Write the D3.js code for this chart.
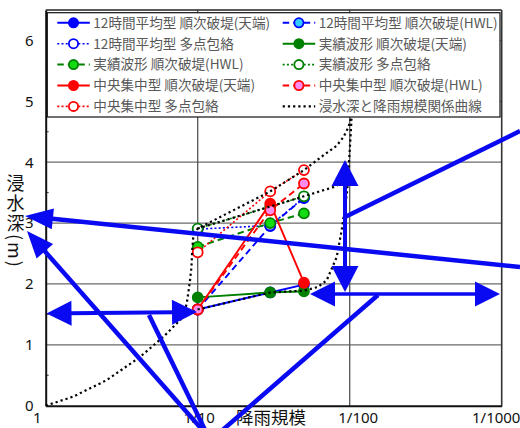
<!DOCTYPE html>
<html>
<head>
<meta charset="utf-8">
<script src="https://cdn.jsdelivr.net/npm/d3@7"></script>
<style>
  html, body { margin: 0; padding: 0; background: #fff; }
  svg { display: block; font-family: "Noto Sans CJK JP", "Noto Sans", sans-serif; }
</style>
</head>
<body>
<svg id="chart" width="520" height="428"></svg>
<script>
// Return periods (1/T) at which the breach simulations were run
const returnPeriods = [10, 30, 50];

// Inundation depth (m) for each rainfall pattern / breach condition
const avg12Crest     = [1.58, 1.86, 1.99];
const avg12Hwl       = [1.58, 2.95, 3.41];
const avg12Envelope  = [2.90, 2.96, 3.42];
const actualCrest    = [1.78, 1.86, 1.88];
const actualHwl      = [2.61, 3.00, 3.16];
const actualEnvelope = [2.91, 3.27, 3.44];
const centralCrest   = [1.58, 3.32, 2.02];
const centralHwl     = [1.58, 3.21, 3.65];
const centralEnvelope= [2.52, 3.52, 3.87];

// Depth vs. rainfall-scale relation curves: [return period, depth]
const relationLower = [[1,0],[1.52,0.15],[2.52,0.42],[4.17,0.80],[5.94,1.13],[8.04,1.46],[10,1.58],
  [30,1.86],[50,1.89],[61.8,1.95],[70.6,2.06],[82.1,2.44],[88.5,2.88],[93.1,3.26],[96.4,3.54],
  [99.4,4.08],[101.6,4.47],[102.8,4.72],[104,5.4]];
const relationUpper = [[8.04,1.46],[8.47,1.68],[8.67,1.85],[8.9,2.06],[9.1,2.28],[9.2,2.55],[9.35,2.77],
  [10,2.91],[30,3.52],[50,3.87],[67,4.11],[82,4.27],[90.8,4.41],[97.9,4.57],[102,4.72],[105,5.4]];
const relationMiddle = [[10,2.91],[50,3.44],[78,3.59],[95.5,3.70],[98.8,3.85]];

// Axis ticks
const xTickValues = [1, 10, 100, 1000];
const xTickLabels = ["1", "1/10", "1/100", "1/1000"];
const yTickValues = [0, 1, 2, 3, 4, 5, 6];
const yMinorTicks = [0.5, 1.5, 2.5, 3.5, 4.5, 5.5];

const BLUE = "#0000ff", GREEN = "#008000", RED = "#ff0000";

const series = [
  { name: "12時間平均型 順次破堤(天端)", values: avg12Crest,    stroke: BLUE,  dash: null,   fill: BLUE,      mstroke: BLUE },
  { name: "12時間平均型 順次破堤(HWL)", values: avg12Hwl,      stroke: BLUE,  dash: "6.5 4", fill: "#33ccff", mstroke: BLUE },
  { name: "12時間平均型 多点包絡",     values: avg12Envelope, stroke: BLUE,  dash: "2 2.2", fill: "#fff",    mstroke: BLUE },
  { name: "実績波形 順次破堤(天端)",   values: actualCrest,   stroke: GREEN, dash: null,   fill: GREEN,     mstroke: GREEN },
  { name: "実績波形 順次破堤(HWL)",    values: actualHwl,     stroke: GREEN, dash: "6.5 4", fill: "#12dd12", mstroke: GREEN },
  { name: "実績波形 多点包絡",         values: actualEnvelope,stroke: GREEN, dash: "2 2.2", fill: "#fff",    mstroke: GREEN },
  { name: "中央集中型 順次破堤(天端)", values: centralCrest,  stroke: RED,   dash: null,   fill: RED,       mstroke: RED },
  { name: "中央集中型 順次破堤(HWL)",  values: centralHwl,    stroke: RED,   dash: "6.5 4", fill: "#ff8cf0", mstroke: RED },
  { name: "中央集中型 多点包絡",       values: centralEnvelope,stroke: RED,  dash: "2 2.2", fill: "#fff",    mstroke: RED }
];
const relationName = "浸水深と降雨規模関係曲線";
const relationDash = "2.2 3";

const svg = d3.select("#chart");
const plot = { left: 45.7, right: 501.7, top: 10, bottom: 405.7 };

const x = d3.scaleLog().domain([1, 1000]).range([plot.left, plot.right]);
const y = d3.scaleLinear().domain([0, 6.5]).range([plot.bottom, plot.top]);

// Gridlines
const grid = svg.append("g");
grid.selectAll("line.h").data(yTickValues.filter(d => d > 0)).join("line")
  .attr("x1", plot.left).attr("x2", plot.right)
  .attr("y1", d => y(d)).attr("y2", d => y(d))
  .attr("stroke", "#6a6a6a").attr("stroke-width", 1.3);
grid.selectAll("line.v").data([10, 100]).join("line")
  .attr("x1", d => x(d)).attr("x2", d => x(d))
  .attr("y1", plot.top).attr("y2", plot.bottom)
  .attr("stroke", "#555").attr("stroke-width", 1.3);

// Plot border (top/right)
svg.append("line").attr("x1", plot.left).attr("x2", plot.right).attr("y1", y(6.5)).attr("y2", y(6.5))
  .attr("stroke", "#222").attr("stroke-width", 1.6);
svg.append("line").attr("x1", x(1000)).attr("x2", x(1000)).attr("y1", plot.top).attr("y2", plot.bottom)
  .attr("stroke", "#333").attr("stroke-width", 1.6);

// Minor ticks on the depth axis
svg.append("g").selectAll("line").data(yMinorTicks).join("line")
  .attr("x1", plot.left).attr("x2", plot.left + 3)
  .attr("y1", d => y(d)).attr("y2", d => y(d))
  .attr("stroke", "#333").attr("stroke-width", 1);

// Axes
const yAxis = svg.append("g").attr("transform", `translate(${plot.left},0)`)
  .call(d3.axisLeft(y).tickValues(yTickValues).tickSize(0).tickPadding(12).tickFormat(d3.format("d")));
yAxis.select(".domain").attr("stroke", "#111").attr("stroke-width", 2);
yAxis.selectAll("text").attr("font-size", 15).attr("fill", "#111")
  .attr("font-family", "'Noto Sans', sans-serif");

const xLabelShift = [-9, 1, 8, -6];
const xAxis = svg.append("g").attr("transform", `translate(0,${plot.bottom})`)
  .call(d3.axisBottom(x).tickValues(xTickValues).tickSize(0).tickPadding(7)
    .tickFormat((d, i) => xTickLabels[i]));
xAxis.select(".domain").attr("stroke", "#111").attr("stroke-width", 2);
xAxis.selectAll("text").attr("font-size", 15).attr("fill", "#111")
  .attr("font-family", "'Noto Sans', sans-serif")
  .attr("dx", (d, i) => xLabelShift[i]);

// Axis titles
svg.append("text").attr("x", 271).attr("y", 424).attr("text-anchor", "middle")
  .attr("font-size", 17.5).attr("fill", "#111").text("降雨規模");
svg.append("text").attr("x", 15.5).attr("y", 174)
  .attr("writing-mode", "vertical-rl").style("writing-mode", "vertical-rl")
  .attr("font-size", 18).attr("letter-spacing", 2).attr("fill", "#111").text("浸水深(m)");

// Data series
const line = d3.line().x(d => x(d[0])).y(d => y(d[1]));
const dataG = svg.append("g");
series.forEach(s => {
  const pts = returnPeriods.map((t, i) => [t, s.values[i]]);
  const g = dataG.append("g");
  g.append("path").attr("d", line(pts)).attr("fill", "none")
    .attr("stroke", s.stroke).attr("stroke-width", s.dash === "2 2.2" ? 1.6 : 1.9)
    .attr("stroke-dasharray", s.dash);
  g.selectAll("circle").data(pts).join("circle")
    .attr("cx", d => x(d[0])).attr("cy", d => y(d[1])).attr("r", 5)
    .attr("fill", s.fill).attr("stroke", s.mstroke).attr("stroke-width", 1.8);
});

// Relation curves
[relationLower, relationUpper, relationMiddle].forEach(c => {
  dataG.append("path").attr("d", line(c)).attr("fill", "none")
    .attr("stroke", "#000").attr("stroke-width", 2.2).attr("stroke-dasharray", relationDash);
});

// Legend
const legend = svg.append("g");
legend.append("rect").attr("x", 47.3).attr("y", 12.7).attr("width", 452.7).attr("height", 104.3)
  .attr("fill", "#fff").attr("stroke", "#111").attr("stroke-width", 1.2);
const legendItems = series.map(s => ({ ...s, relation: false }))
  .concat([{ name: relationName, stroke: "#000", dash: relationDash, relation: true }]);
legendItems.forEach((it, i) => {
  const col = i % 2, row = Math.floor(i / 2);
  const x0 = col === 0 ? 57.3 : 282.7;
  const cy = 22.8 + row * 20.9;
  const g = legend.append("g");
  g.append("line").attr("x1", x0).attr("x2", x0 + 32.5).attr("y1", cy).attr("y2", cy)
    .attr("stroke", it.stroke)
    .attr("stroke-width", it.relation ? 2.2 : (it.dash === "2 2.2" ? 1.6 : 2))
    .attr("stroke-dasharray", it.dash);
  if (!it.relation) {
    g.append("circle").attr("cx", x0 + 16.2).attr("cy", cy).attr("r", 4.6)
      .attr("fill", it.fill).attr("stroke", it.mstroke).attr("stroke-width", 1.8);
  }
  g.append("text").attr("x", x0 + 36).attr("y", cy).attr("dy", "0.36em")
    .attr("font-size", 13.6).attr("fill", "#595959").text(it.name);
});

// Callout arrows
const callouts = [
  { from: [520, 131], to: [345, 217], width: 4.5, heads: [] },
  { from: [345, 292], to: [345, 160], width: 4, heads: ["start", "end"], hl: 26, hw: 27 },
  { from: [310, 294], to: [500, 294], width: 3.7, heads: ["start", "end"], hl: 25, hw: 25 },
  { from: [378, 295], to: [218, 434], width: 4.5, heads: [] },
  { from: [520, 267], to: [25, 216], width: 4.5, heads: ["end"], hl: 28, hw: 21 },
  { from: [206, 434], to: [27, 231], width: 4.5, heads: ["end"], hl: 27, hw: 22 },
  { from: [46.5, 313.5], to: [197, 312], width: 4, heads: ["start", "end"], hl: 25, hw: 25 },
  { from: [149, 315], to: [207, 434], width: 4.5, heads: [] }
];
const ARROW = "#0a0af2";
const arrowG = svg.append("g");
callouts.forEach(c => {
  const [x1, y1] = c.from, [x2, y2] = c.to;
  const len = Math.hypot(x2 - x1, y2 - y1);
  const ux = (x2 - x1) / len, uy = (y2 - y1) / len;
  const nx = -uy, ny = ux;
  let sx = x1, sy = y1, ex = x2, ey = y2;
  if (c.heads.includes("start")) { sx += ux * c.hl * 0.9; sy += uy * c.hl * 0.9; }
  if (c.heads.includes("end")) { ex -= ux * c.hl * 0.9; ey -= uy * c.hl * 0.9; }
  arrowG.append("line").attr("x1", sx).attr("y1", sy).attr("x2", ex).attr("y2", ey)
    .attr("stroke", ARROW).attr("stroke-width", c.width);
  const head = (px, py, dx, dy) => {
    const bx = px - dx * c.hl, by = py - dy * c.hl;
    const pts = [[px, py], [bx + nx * c.hw / 2, by + ny * c.hw / 2], [bx - nx * c.hw / 2, by - ny * c.hw / 2]];
    arrowG.append("polygon").attr("points", pts.map(p => p.join(",")).join(" ")).attr("fill", ARROW);
  };
  if (c.heads.includes("end")) head(x2, y2, ux, uy);
  if (c.heads.includes("start")) head(x1, y1, -ux, -uy);
});
</script>
</body>
</html>
